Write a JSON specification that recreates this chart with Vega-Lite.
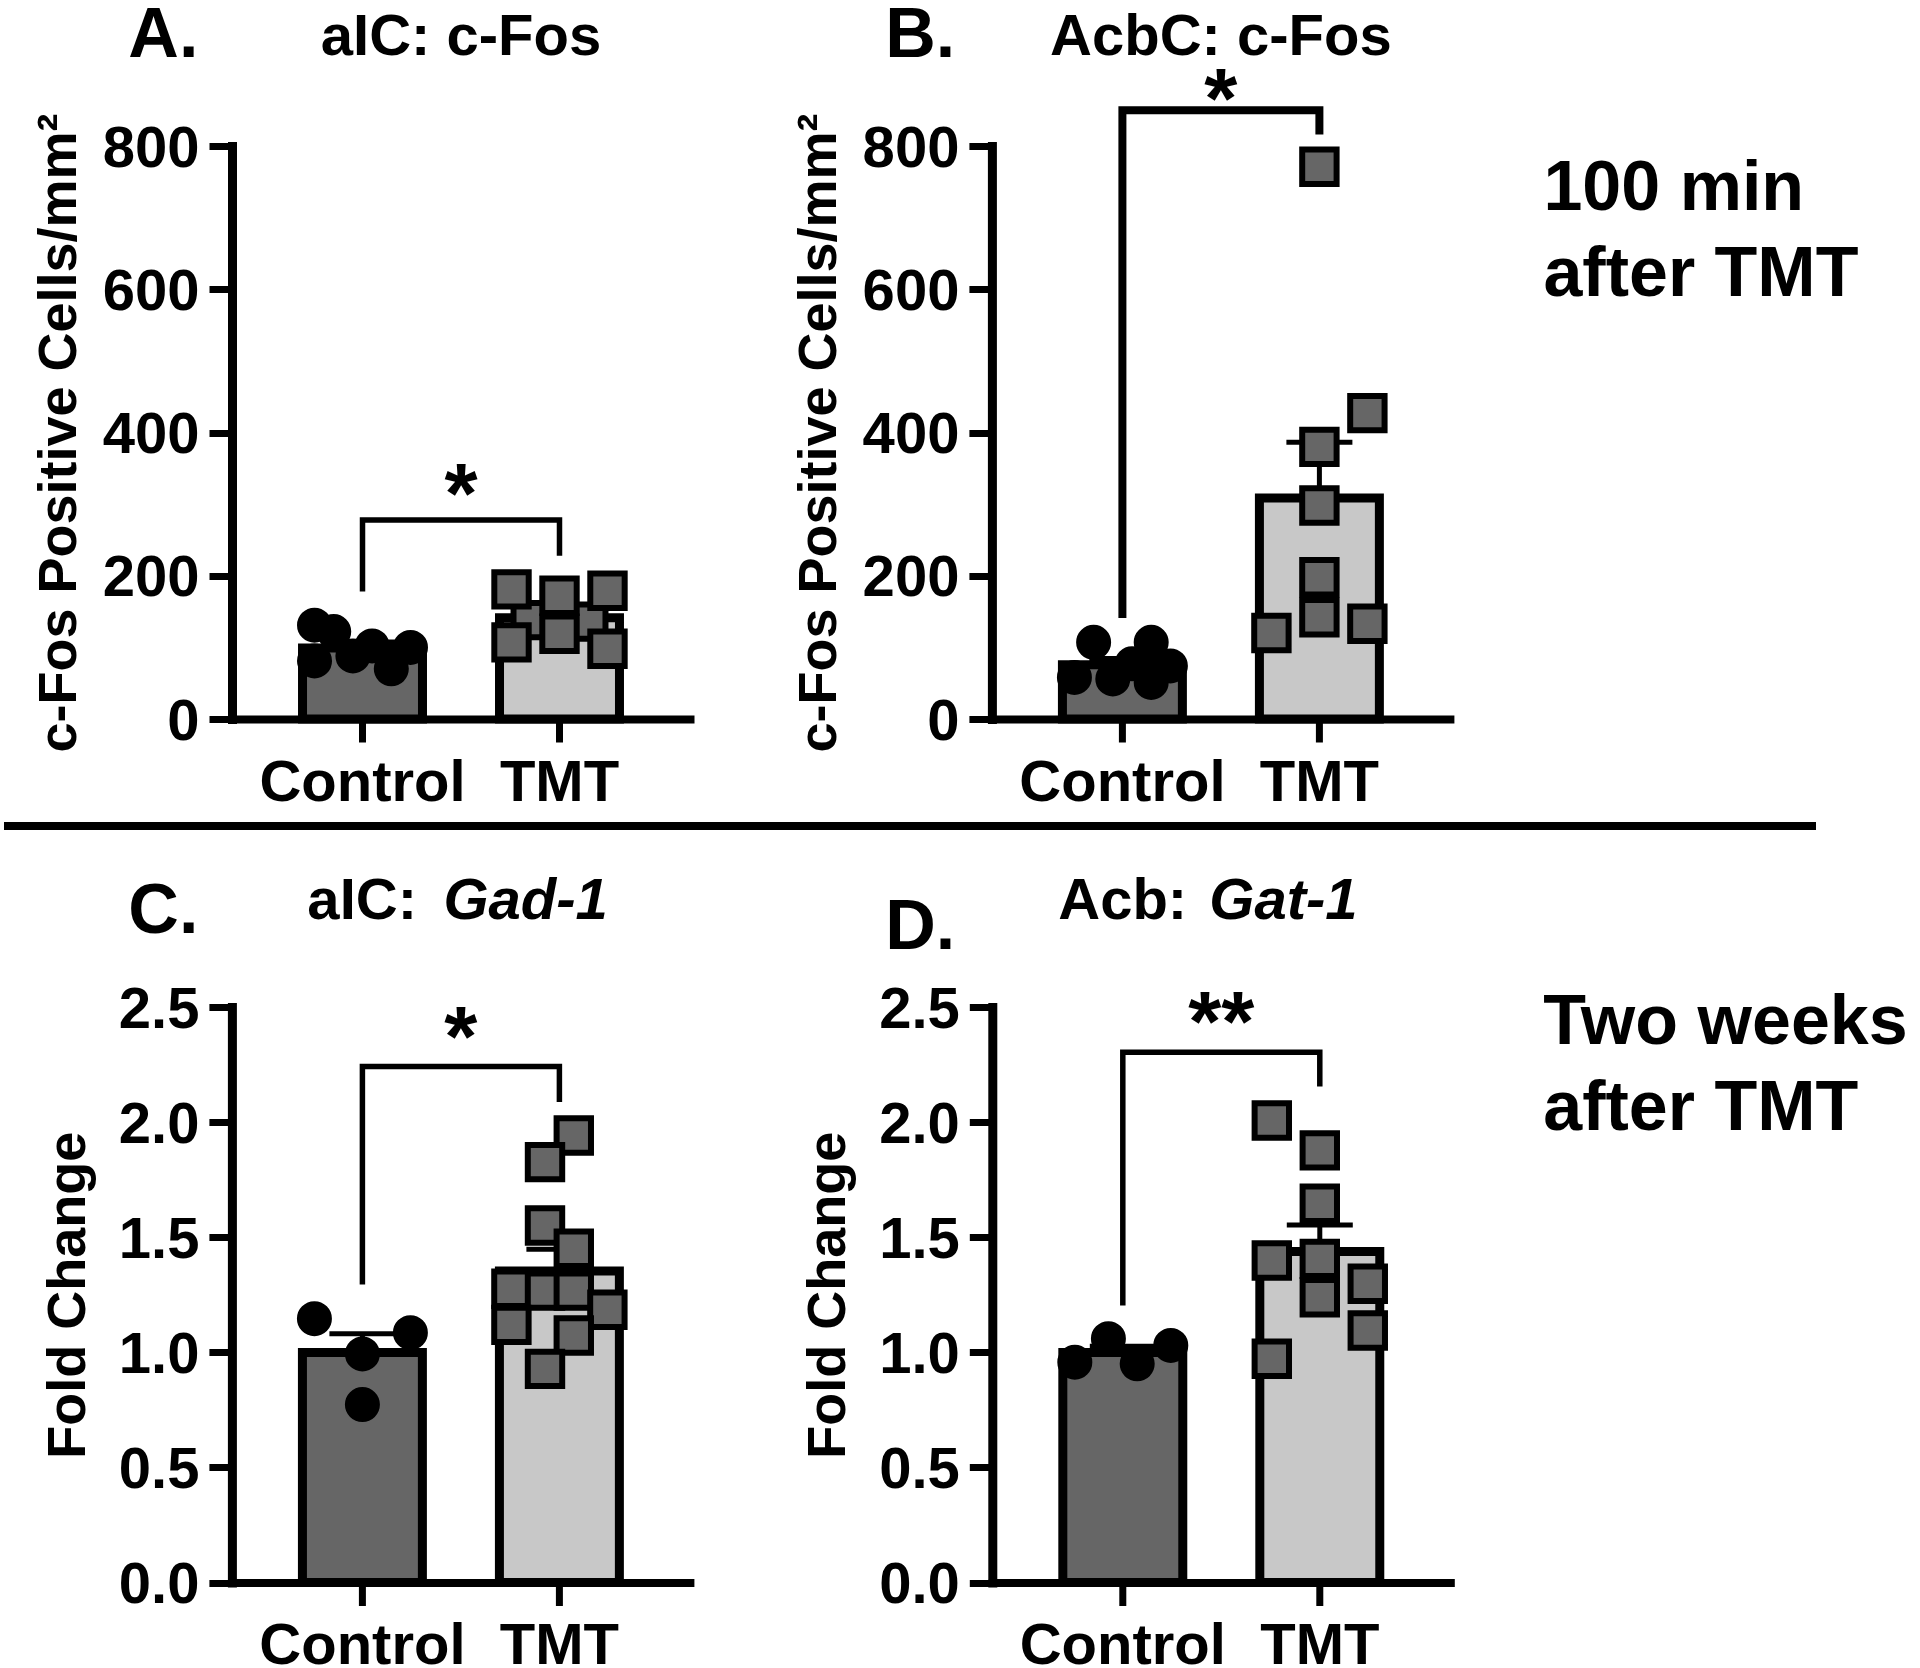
{
  "$schema": "https://vega.github.io/schema/vega-lite/v6.json",
  "padding": 0,
  "background": "white",
  "config": {
    "view": {"stroke": null},
    "font": "Liberation Sans",
    "title": {"font": "Liberation Sans", "fontWeight": "bold", "color": "black", "fontSize": 58},
    "axis": {"domainColor": "black", "domainWidth": 9, "domainCap": "square", "tickColor": "black", "tickWidth": 7, "tickSize": 23, "labelFont": "Liberation Sans", "labelFontWeight": "bold", "labelColor": "black", "labelFontSize": 58, "labelPadding": 10, "labelLimit": 400, "titleFont": "Liberation Sans", "titleFontWeight": "bold", "titleFontSize": 54, "titleColor": "black", "grid": false, "labelOverlap": false},
    "axisY": {"labelOffset": 3, "labelFlush": false},
    "axisX": {"domainWidth": 8, "labelFontSize": 58, "labelPadding": 12, "labelAngle": 0}
  },
  "datasets": {
    "A": [
      {"group": "Control", "v": 131, "col": -10}, {"group": "Control", "v": 122, "col": -6}, {"group": "Control", "v": 81, "col": -10}, {"group": "Control", "v": 88, "col": -2}, {"group": "Control", "v": 102, "col": 2}, {"group": "Control", "v": 70, "col": 6}, {"group": "Control", "v": 100, "col": 10},
      {"group": "TMT", "v": 138, "col": -6}, {"group": "TMT", "v": 136, "col": 6}, {"group": "TMT", "v": 181, "col": -10}, {"group": "TMT", "v": 172, "col": 0}, {"group": "TMT", "v": 179, "col": 10}, {"group": "TMT", "v": 107, "col": -10}, {"group": "TMT", "v": 119, "col": 0}, {"group": "TMT", "v": 98, "col": 10}
    ],
    "Abr": [{"group": "Control", "v": 178, "k": 1}, {"group": "Control", "v": 278, "k": 2}, {"group": "TMT", "v": 278, "k": 3}, {"group": "TMT", "v": 228, "k": 4}],
    "Ast": [{"group": "Control", "v": 273, "label": "*"}],
    "B": [
      {"group": "Control", "v": 107, "col": -6}, {"group": "Control", "v": 107, "col": 6}, {"group": "Control", "v": 58, "col": -10}, {"group": "Control", "v": 56, "col": -2}, {"group": "Control", "v": 77, "col": 2}, {"group": "Control", "v": 51, "col": 6}, {"group": "Control", "v": 74, "col": 10},
      {"group": "TMT", "v": 771, "col": 0}, {"group": "TMT", "v": 427, "col": 10}, {"group": "TMT", "v": 380, "col": 0}, {"group": "TMT", "v": 298, "col": 0}, {"group": "TMT", "v": 198, "col": 0}, {"group": "TMT", "v": 142, "col": 0}, {"group": "TMT", "v": 120, "col": -10}, {"group": "TMT", "v": 133, "col": 10}
    ],
    "Bbr": [{"group": "Control", "v": 141, "k": 1}, {"group": "Control", "v": 850, "k": 2}, {"group": "TMT", "v": 850, "k": 3}, {"group": "TMT", "v": 816, "k": 4}],
    "Bst": [{"group": "Control", "v": 825, "label": "*"}],
    "C": [
      {"group": "Control", "v": 1.146, "col": -10}, {"group": "Control", "v": 1.085, "col": 10}, {"group": "Control", "v": 0.993, "col": 0}, {"group": "Control", "v": 0.773, "col": 0},
      {"group": "TMT", "v": 1.942, "col": 3}, {"group": "TMT", "v": 1.826, "col": -3}, {"group": "TMT", "v": 1.551, "col": -3}, {"group": "TMT", "v": 1.45, "col": 3}, {"group": "TMT", "v": 1.276, "col": -10}, {"group": "TMT", "v": 1.268, "col": -3}, {"group": "TMT", "v": 1.268, "col": 3}, {"group": "TMT", "v": 1.185, "col": 10}, {"group": "TMT", "v": 1.119, "col": -10}, {"group": "TMT", "v": 1.073, "col": 3}, {"group": "TMT", "v": 0.928, "col": -3}
    ],
    "Cbr": [{"group": "Control", "v": 1.295, "k": 1}, {"group": "Control", "v": 2.242, "k": 2}, {"group": "TMT", "v": 2.242, "k": 3}, {"group": "TMT", "v": 2.087, "k": 4}],
    "Cst": [{"group": "Control", "v": 2.242, "label": "*"}],
    "D": [
      {"group": "Control", "v": 1.059, "col": -3}, {"group": "Control", "v": 1.03, "col": 10}, {"group": "Control", "v": 0.957, "col": -10}, {"group": "Control", "v": 0.95, "col": 3},
      {"group": "TMT", "v": 2.007, "col": -10}, {"group": "TMT", "v": 1.877, "col": 0}, {"group": "TMT", "v": 1.645, "col": 0}, {"group": "TMT", "v": 1.399, "col": -10}, {"group": "TMT", "v": 1.406, "col": 0}, {"group": "TMT", "v": 1.239, "col": 0}, {"group": "TMT", "v": 1.298, "col": 10}, {"group": "TMT", "v": 1.095, "col": 10}, {"group": "TMT", "v": 0.972, "col": -10}
    ],
    "Dbr": [{"group": "Control", "v": 1.203, "k": 1}, {"group": "Control", "v": 2.303, "k": 2}, {"group": "TMT", "v": 2.303, "k": 3}, {"group": "TMT", "v": 2.155, "k": 4}],
    "Dst": [{"group": "Control", "v": 2.307, "label": "**"}]
  },
  "spacing": 10,
  "vconcat": [
    {
      "spacing": 24,
      "hconcat": [
        {"width": 1, "height": 1, "data": {"values": [{}]}, "mark": {"type": "point", "opacity": 0}, "encoding": {}},
        {
          "spacing": 101.9,
          "hconcat": [
            {
              "title": {"text": "A.", "anchor": "start", "frame": "bounds", "fontSize": 70, "dx": 96, "offset": -62.5},
              "vconcat": [
                {
                  "width": 458, "height": 573,
                  "title": {"text": "aIC: c-Fos", "anchor": "middle", "frame": "group", "offset": 45.7},
                  "resolve": {"scale": {"xOffset": "independent"}},
                  "layer": [
                    {"data": {"name": "A"}, "mark": {"type": "errorbar", "extent": "stderr", "color": "black", "rule": {"strokeWidth": 5, "color": "black", "opacity": 1}, "ticks": {"size": 66, "thickness": 5, "color": "black", "opacity": 1}},
                     "encoding": {"x": {"field": "group", "type": "nominal", "scale": {"domain": ["Control", "TMT"], "paddingInner": 0.391, "paddingOuter": 0.358}, "axis": {"title": null}},
                                  "y": {"field": "v", "type": "quantitative", "scale": {"domain": [0, 800], "nice": false}, "axis": {"values": [0, 200, 400, 600, 800], "title": "c-Fos Positive Cells/mm²", "titlePadding": 15.9}}}},
                    {"data": {"name": "A"}, "mark": {"type": "bar", "stroke": "black", "strokeWidth": 9},
                     "encoding": {"x": {"field": "group", "type": "nominal", "scale": {"domain": ["Control", "TMT"], "paddingInner": 0.391, "paddingOuter": 0.358}, "axis": {"title": null}},
                                  "y": {"aggregate": "mean", "field": "v", "type": "quantitative", "scale": {"domain": [0, 800], "nice": false}, "axis": {"values": [0, 200, 400, 600, 800], "title": "c-Fos Positive Cells/mm²", "titlePadding": 15.9}},
                                  "color": {"field": "group", "type": "nominal", "scale": {"domain": ["Control", "TMT"], "range": ["#666666", "#c8c8c8"]}, "legend": null}}},
                    {"data": {"name": "A"}, "mark": {"type": "point", "filled": true, "opacity": 1, "stroke": "black", "strokeWidth": 6},
                     "encoding": {"x": {"field": "group", "type": "nominal", "scale": {"domain": ["Control", "TMT"], "paddingInner": 0.391, "paddingOuter": 0.358}, "axis": {"title": null}},
                                  "xOffset": {"field": "col", "type": "quantitative", "scale": {"domain": [-12.5, 12.5]}},
                                  "y": {"field": "v", "type": "quantitative", "scale": {"domain": [0, 800], "nice": false}, "axis": {"values": [0, 200, 400, 600, 800], "title": "c-Fos Positive Cells/mm²", "titlePadding": 15.9}},
                                  "shape": {"field": "group", "type": "nominal", "scale": {"domain": ["Control", "TMT"], "range": ["circle", "square"]}, "legend": null},
                                  "fill": {"field": "group", "type": "nominal", "scale": {"domain": ["Control", "TMT"], "range": ["#000000", "#666666"]}, "legend": null},
                                  "size": {"field": "group", "type": "nominal", "scale": {"domain": ["Control", "TMT"], "range": [841, 1183]}, "legend": null}}},
                    {"data": {"name": "Abr"}, "mark": {"type": "line", "color": "black", "strokeWidth": 5.5},
                     "encoding": {"x": {"field": "group", "type": "nominal", "scale": {"domain": ["Control", "TMT"], "paddingInner": 0.391, "paddingOuter": 0.358}, "axis": {"title": null}},
                                  "y": {"field": "v", "type": "quantitative", "scale": {"domain": [0, 800], "nice": false}, "axis": {"values": [0, 200, 400, 600, 800], "title": "c-Fos Positive Cells/mm²", "titlePadding": 15.9}},
                                  "order": {"field": "k", "type": "quantitative"}}},
                    {"data": {"name": "Ast"}, "mark": {"type": "text", "fontSize": 85, "fontWeight": "bold", "dx": 98.5, "baseline": "alphabetic", "align": "center", "color": "black"},
                     "encoding": {"x": {"field": "group", "type": "nominal", "scale": {"domain": ["Control", "TMT"], "paddingInner": 0.391, "paddingOuter": 0.358}, "axis": {"title": null}},
                                  "y": {"field": "v", "type": "quantitative", "scale": {"domain": [0, 800], "nice": false}, "axis": {"values": [0, 200, 400, 600, 800], "title": "c-Fos Positive Cells/mm²", "titlePadding": 15.9}},
                                  "text": {"field": "label"}}}
                  ]
                }
              ]
            },
            {
              "spacing": 93.5,
              "hconcat": [
                {
                  "title": {"text": "B.", "anchor": "start", "frame": "bounds", "fontSize": 70, "dx": 93, "offset": -62.5},
                  "vconcat": [
                    {
                      "width": 458, "height": 573,
                      "title": {"text": "AcbC: c-Fos", "anchor": "middle", "frame": "group", "offset": -7.2},
                      "resolve": {"scale": {"xOffset": "independent"}},
                      "layer": [
                        {"data": {"name": "B"}, "mark": {"type": "errorbar", "extent": "stderr", "color": "black", "rule": {"strokeWidth": 5, "color": "black", "opacity": 1}, "ticks": {"size": 66, "thickness": 5, "color": "black", "opacity": 1}},
                         "encoding": {"x": {"field": "group", "type": "nominal", "scale": {"domain": ["Control", "TMT"], "paddingInner": 0.391, "paddingOuter": 0.358}, "axis": {"title": null}},
                                      "y": {"field": "v", "type": "quantitative", "scale": {"domain": [0, 800], "nice": false}, "axis": {"values": [0, 200, 400, 600, 800], "title": "c-Fos Positive Cells/mm²", "titlePadding": 15.9}}}},
                        {"data": {"name": "B"}, "mark": {"type": "bar", "stroke": "black", "strokeWidth": 9},
                         "encoding": {"x": {"field": "group", "type": "nominal", "scale": {"domain": ["Control", "TMT"], "paddingInner": 0.391, "paddingOuter": 0.358}, "axis": {"title": null}},
                                      "y": {"aggregate": "mean", "field": "v", "type": "quantitative", "scale": {"domain": [0, 800], "nice": false}, "axis": {"values": [0, 200, 400, 600, 800], "title": "c-Fos Positive Cells/mm²", "titlePadding": 15.9}},
                                      "color": {"field": "group", "type": "nominal", "scale": {"domain": ["Control", "TMT"], "range": ["#666666", "#c8c8c8"]}, "legend": null}}},
                        {"data": {"name": "B"}, "mark": {"type": "point", "filled": true, "opacity": 1, "stroke": "black", "strokeWidth": 6},
                         "encoding": {"x": {"field": "group", "type": "nominal", "scale": {"domain": ["Control", "TMT"], "paddingInner": 0.391, "paddingOuter": 0.358}, "axis": {"title": null}},
                                      "xOffset": {"field": "col", "type": "quantitative", "scale": {"domain": [-12.5, 12.5]}},
                                      "y": {"field": "v", "type": "quantitative", "scale": {"domain": [0, 800], "nice": false}, "axis": {"values": [0, 200, 400, 600, 800], "title": "c-Fos Positive Cells/mm²", "titlePadding": 15.9}},
                                      "shape": {"field": "group", "type": "nominal", "scale": {"domain": ["Control", "TMT"], "range": ["circle", "square"]}, "legend": null},
                                      "fill": {"field": "group", "type": "nominal", "scale": {"domain": ["Control", "TMT"], "range": ["#000000", "#666666"]}, "legend": null},
                                      "size": {"field": "group", "type": "nominal", "scale": {"domain": ["Control", "TMT"], "range": [841, 1183]}, "legend": null}}},
                        {"data": {"name": "Bbr"}, "mark": {"type": "line", "color": "black", "strokeWidth": 8},
                         "encoding": {"x": {"field": "group", "type": "nominal", "scale": {"domain": ["Control", "TMT"], "paddingInner": 0.391, "paddingOuter": 0.358}, "axis": {"title": null}},
                                      "y": {"field": "v", "type": "quantitative", "scale": {"domain": [0, 800], "nice": false}, "axis": {"values": [0, 200, 400, 600, 800], "title": "c-Fos Positive Cells/mm²", "titlePadding": 15.9}},
                                      "order": {"field": "k", "type": "quantitative"}}},
                        {"data": {"name": "Bst"}, "mark": {"type": "text", "fontSize": 85, "fontWeight": "bold", "dx": 98.5, "baseline": "alphabetic", "align": "center", "color": "black"},
                         "encoding": {"x": {"field": "group", "type": "nominal", "scale": {"domain": ["Control", "TMT"], "paddingInner": 0.391, "paddingOuter": 0.358}, "axis": {"title": null}},
                                      "y": {"field": "v", "type": "quantitative", "scale": {"domain": [0, 800], "nice": false}, "axis": {"values": [0, 200, 400, 600, 800], "title": "c-Fos Positive Cells/mm²", "titlePadding": 15.9}},
                                      "text": {"field": "label"}}}
                      ]
                    }
                  ]
                },
                {
                  "width": 320, "height": 1,
                  "data": {"values": [{}]},
                  "mark": {"type": "point", "opacity": 0},
                  "encoding": {},
                  "title": {"text": ["100 min", "after TMT"], "orient": "bottom", "anchor": "start", "frame": "group", "fontSize": 70, "lineHeight": 86, "offset": 6}
                }
              ]
            }
          ]
        }
      ]
    },
    {
      "width": 1812, "height": 35.2,
      "data": {"values": [{}]},
      "mark": {"type": "rule", "strokeWidth": 8, "color": "black"},
      "encoding": {"y": {"value": 0}}
    },
    {
      "spacing": 32.9,
      "hconcat": [
        {"width": 1, "height": 1, "data": {"values": [{}]}, "mark": {"type": "point", "opacity": 0}, "encoding": {}},
        {
          "spacing": 111.4,
          "hconcat": [
            {
              "title": {"text": "C.", "anchor": "start", "frame": "bounds", "fontSize": 70, "dx": 87.1, "offset": -75.5},
              "vconcat": [
                {
                  "title": {"text": "aIC:", "anchor": "start", "frame": "bounds", "dx": 266.1, "offset": -58},
                  "vconcat": [
                    {
                      "width": 458, "height": 575.5,
                      "title": {"text": "Gad-1", "fontStyle": "italic", "anchor": "start", "frame": "group", "dx": 211.5, "offset": 50.3},
                      "resolve": {"scale": {"xOffset": "independent"}},
                      "layer": [
                        {"data": {"name": "C"}, "mark": {"type": "errorbar", "extent": "stderr", "color": "black", "rule": {"strokeWidth": 5, "color": "black", "opacity": 1}, "ticks": {"size": 66, "thickness": 5, "color": "black", "opacity": 1}},
                         "encoding": {"x": {"field": "group", "type": "nominal", "scale": {"domain": ["Control", "TMT"], "paddingInner": 0.391, "paddingOuter": 0.358}, "axis": {"title": null}},
                                      "y": {"field": "v", "type": "quantitative", "scale": {"domain": [0, 2.5], "nice": false}, "axis": {"values": [0, 0.5, 1, 1.5, 2, 2.5], "format": ".1f", "title": "Fold Change", "titlePadding": 23}}}},
                        {"data": {"name": "C"}, "mark": {"type": "bar", "stroke": "black", "strokeWidth": 9},
                         "encoding": {"x": {"field": "group", "type": "nominal", "scale": {"domain": ["Control", "TMT"], "paddingInner": 0.391, "paddingOuter": 0.358}, "axis": {"title": null}},
                                      "y": {"aggregate": "mean", "field": "v", "type": "quantitative", "scale": {"domain": [0, 2.5], "nice": false}, "axis": {"values": [0, 0.5, 1, 1.5, 2, 2.5], "format": ".1f", "title": "Fold Change", "titlePadding": 23}},
                                      "color": {"field": "group", "type": "nominal", "scale": {"domain": ["Control", "TMT"], "range": ["#666666", "#c8c8c8"]}, "legend": null}}},
                        {"data": {"name": "C"}, "mark": {"type": "point", "filled": true, "opacity": 1, "stroke": "black", "strokeWidth": 6},
                         "encoding": {"x": {"field": "group", "type": "nominal", "scale": {"domain": ["Control", "TMT"], "paddingInner": 0.391, "paddingOuter": 0.358}, "axis": {"title": null}},
                                      "xOffset": {"field": "col", "type": "quantitative", "scale": {"domain": [-12.5, 12.5]}},
                                      "y": {"field": "v", "type": "quantitative", "scale": {"domain": [0, 2.5], "nice": false}, "axis": {"values": [0, 0.5, 1, 1.5, 2, 2.5], "format": ".1f", "title": "Fold Change", "titlePadding": 23}},
                                      "shape": {"field": "group", "type": "nominal", "scale": {"domain": ["Control", "TMT"], "range": ["circle", "square"]}, "legend": null},
                                      "fill": {"field": "group", "type": "nominal", "scale": {"domain": ["Control", "TMT"], "range": ["#000000", "#666666"]}, "legend": null},
                                      "size": {"field": "group", "type": "nominal", "scale": {"domain": ["Control", "TMT"], "range": [841, 1183]}, "legend": null}}},
                        {"data": {"name": "Cbr"}, "mark": {"type": "line", "color": "black", "strokeWidth": 5.5},
                         "encoding": {"x": {"field": "group", "type": "nominal", "scale": {"domain": ["Control", "TMT"], "paddingInner": 0.391, "paddingOuter": 0.358}, "axis": {"title": null}},
                                      "y": {"field": "v", "type": "quantitative", "scale": {"domain": [0, 2.5], "nice": false}, "axis": {"values": [0, 0.5, 1, 1.5, 2, 2.5], "format": ".1f", "title": "Fold Change", "titlePadding": 23}},
                                      "order": {"field": "k", "type": "quantitative"}}},
                        {"data": {"name": "Cst"}, "mark": {"type": "text", "fontSize": 85, "fontWeight": "bold", "dx": 98.5, "baseline": "alphabetic", "align": "center", "color": "black"},
                         "encoding": {"x": {"field": "group", "type": "nominal", "scale": {"domain": ["Control", "TMT"], "paddingInner": 0.391, "paddingOuter": 0.358}, "axis": {"title": null}},
                                      "y": {"field": "v", "type": "quantitative", "scale": {"domain": [0, 2.5], "nice": false}, "axis": {"values": [0, 0.5, 1, 1.5, 2, 2.5], "format": ".1f", "title": "Fold Change", "titlePadding": 23}},
                                      "text": {"field": "label"}}}
                      ]
                    }
                  ]
                }
              ]
            },
            {
              "spacing": 93,
              "hconcat": [
                {
                  "title": {"text": "D.", "anchor": "start", "frame": "bounds", "fontSize": 70, "dx": 83.6, "offset": -91.5},
                  "vconcat": [
                    {
                      "title": {"text": "Acb:", "anchor": "start", "frame": "bounds", "dx": 256.6, "offset": -58},
                      "vconcat": [
                        {
                          "width": 458, "height": 575.5,
                          "title": {"text": "Gat-1", "fontStyle": "italic", "anchor": "start", "frame": "group", "dx": 217, "offset": 50.3},
                          "resolve": {"scale": {"xOffset": "independent"}},
                          "layer": [
                            {"data": {"name": "D"}, "mark": {"type": "errorbar", "extent": "stderr", "color": "black", "rule": {"strokeWidth": 5, "color": "black", "opacity": 1}, "ticks": {"size": 66, "thickness": 5, "color": "black", "opacity": 1}},
                             "encoding": {"x": {"field": "group", "type": "nominal", "scale": {"domain": ["Control", "TMT"], "paddingInner": 0.391, "paddingOuter": 0.358}, "axis": {"title": null}},
                                          "y": {"field": "v", "type": "quantitative", "scale": {"domain": [0, 2.5], "nice": false}, "axis": {"values": [0, 0.5, 1, 1.5, 2, 2.5], "format": ".1f", "title": "Fold Change", "titlePadding": 23}}}},
                            {"data": {"name": "D"}, "mark": {"type": "bar", "stroke": "black", "strokeWidth": 9},
                             "encoding": {"x": {"field": "group", "type": "nominal", "scale": {"domain": ["Control", "TMT"], "paddingInner": 0.391, "paddingOuter": 0.358}, "axis": {"title": null}},
                                          "y": {"aggregate": "mean", "field": "v", "type": "quantitative", "scale": {"domain": [0, 2.5], "nice": false}, "axis": {"values": [0, 0.5, 1, 1.5, 2, 2.5], "format": ".1f", "title": "Fold Change", "titlePadding": 23}},
                                          "color": {"field": "group", "type": "nominal", "scale": {"domain": ["Control", "TMT"], "range": ["#666666", "#c8c8c8"]}, "legend": null}}},
                            {"data": {"name": "D"}, "mark": {"type": "point", "filled": true, "opacity": 1, "stroke": "black", "strokeWidth": 6},
                             "encoding": {"x": {"field": "group", "type": "nominal", "scale": {"domain": ["Control", "TMT"], "paddingInner": 0.391, "paddingOuter": 0.358}, "axis": {"title": null}},
                                          "xOffset": {"field": "col", "type": "quantitative", "scale": {"domain": [-12.5, 12.5]}},
                                          "y": {"field": "v", "type": "quantitative", "scale": {"domain": [0, 2.5], "nice": false}, "axis": {"values": [0, 0.5, 1, 1.5, 2, 2.5], "format": ".1f", "title": "Fold Change", "titlePadding": 23}},
                                          "shape": {"field": "group", "type": "nominal", "scale": {"domain": ["Control", "TMT"], "range": ["circle", "square"]}, "legend": null},
                                          "fill": {"field": "group", "type": "nominal", "scale": {"domain": ["Control", "TMT"], "range": ["#000000", "#666666"]}, "legend": null},
                                          "size": {"field": "group", "type": "nominal", "scale": {"domain": ["Control", "TMT"], "range": [841, 1183]}, "legend": null}}},
                            {"data": {"name": "Dbr"}, "mark": {"type": "line", "color": "black", "strokeWidth": 5.5},
                             "encoding": {"x": {"field": "group", "type": "nominal", "scale": {"domain": ["Control", "TMT"], "paddingInner": 0.391, "paddingOuter": 0.358}, "axis": {"title": null}},
                                          "y": {"field": "v", "type": "quantitative", "scale": {"domain": [0, 2.5], "nice": false}, "axis": {"values": [0, 0.5, 1, 1.5, 2, 2.5], "format": ".1f", "title": "Fold Change", "titlePadding": 23}},
                                          "order": {"field": "k", "type": "quantitative"}}},
                            {"data": {"name": "Dst"}, "mark": {"type": "text", "fontSize": 85, "fontWeight": "bold", "dx": 98.5, "baseline": "alphabetic", "align": "center", "color": "black"},
                             "encoding": {"x": {"field": "group", "type": "nominal", "scale": {"domain": ["Control", "TMT"], "paddingInner": 0.391, "paddingOuter": 0.358}, "axis": {"title": null}},
                                          "y": {"field": "v", "type": "quantitative", "scale": {"domain": [0, 2.5], "nice": false}, "axis": {"values": [0, 0.5, 1, 1.5, 2, 2.5], "format": ".1f", "title": "Fold Change", "titlePadding": 23}},
                                          "text": {"field": "label"}}}
                          ]
                        }
                      ]
                    }
                  ]
                },
                {
                  "width": 320, "height": 1,
                  "data": {"values": [{}]},
                  "mark": {"type": "point", "opacity": 0},
                  "encoding": {},
                  "title": {"text": ["Two weeks", "after TMT"], "orient": "bottom", "anchor": "start", "frame": "group", "fontSize": 70, "lineHeight": 86, "offset": -21.5}
                }
              ]
            }
          ]
        }
      ]
    }
  ]
}
